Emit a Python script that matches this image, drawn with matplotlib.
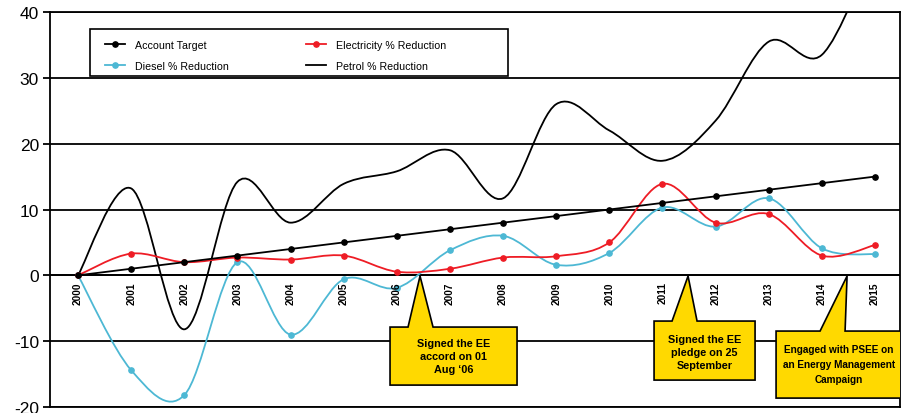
import matplotlib
matplotlib.use("Agg")
import matplotlib.pyplot as plt
from matplotlib.path import Path
from matplotlib.patches import PathPatch, Polygon, Rectangle
from matplotlib.lines import Line2D
import numpy as np

plt.rcParams['font.family'] = ['Liberation Sans', 'DejaVu Sans']

years = list(range(2000, 2016))
account_target = [0, 1, 2, 3, 4, 5, 6, 7, 8, 9, 10, 11, 12, 13, 14, 15]
electricity = [0, 3.3, 2.0, 2.7, 2.4, 3.0, 0.55, 1.0, 2.7, 2.9, 5.0, 13.9, 8.0, 9.3, 3.0, 4.6]
diesel = [0, -14.4, -18.2, 2.0, -9.0, -0.6, -1.9, 3.8, 6.0, 1.6, 3.4, 10.3, 7.4, 11.7, 4.1, 3.2]
petrol = [0, 13.2, -8.2, 14.2, 8.0, 13.9, 15.8, 19.0, 11.7, 26.0, 22.0, 17.4, 23.5, 35.5, 33.5, 50.0]

series_labels = ["Account Target", "Diesel % Reduction", "Electricity % Reduction", "Petrol % Reduction"]
callout_texts = ["Signed the EE\naccord on 01\nAug \u201806",
                 "Signed the EE\npledge on 25\nSeptember",
                 "Engaged with PSEE on\nan Energy Management\nCampaign"]

RED = "#ee1c25"
CYAN = "#4db8d4"
YELLOW = "#ffd900"


def smooth_path(x, y):
    x = np.asarray(x, float)
    y = np.asarray(y, float)
    pts = np.column_stack([x, y])
    n = len(pts)
    verts = [pts[0]]
    codes = [Path.MOVETO]
    for i in range(n - 1):
        p0 = pts[i - 1] if i > 0 else pts[i]
        p1 = pts[i]
        p2 = pts[i + 1]
        p3 = pts[i + 2] if i + 2 < n else pts[i + 1]
        c1 = p1 + (p2 - p0) / 6.0
        c2 = p2 - (p3 - p1) / 6.0
        verts += [c1, c2, p2]
        codes += [Path.CURVE4] * 3
    return Path(verts, codes)


W, H = 910, 414
fig = plt.figure(figsize=(W / 100, H / 100), dpi=100)
AX_L, AX_R, AX_T, AX_B = 50, 900, 13, 408
ax = fig.add_axes([AX_L / W, 1 - AX_B / H, (AX_R - AX_L) / W, (AX_B - AX_T) / H])

ax.set_xlim(1999.473, 2015.47)
ax.set_ylim(-20, 40)

# curves
ax.add_patch(PathPatch(smooth_path(years, petrol), fill=False, edgecolor="black", lw=1.3, zorder=3))
ax.add_patch(PathPatch(smooth_path(years, diesel), fill=False, edgecolor=CYAN, lw=1.3, zorder=4))
ax.plot(years, diesel, 'o', color=CYAN, ms=3.8, zorder=4)
ax.add_patch(PathPatch(smooth_path(years, electricity), fill=False, edgecolor=RED, lw=1.3, zorder=5))
ax.plot(years, electricity, 'o', color=RED, ms=3.8, zorder=5)
ax.plot(years, account_target, '-o', color="black", lw=1.3, ms=3.8, zorder=6)

# grid / axes
ax.set_yticks(range(-20, 41, 10))
ax.set_yticklabels([str(v) for v in range(-20, 41, 10)])
ax.set_xticks([])
ax.grid(axis='y', color='black', lw=1.3, zorder=1)
ax.axhline(0, color='black', lw=1.3, zorder=1)
ax.set_axisbelow(True)
for s in ax.spines.values():
    s.set_color('black')
    s.set_linewidth(1.3)
ax.tick_params(axis='y', length=5, width=1.3, labelsize=12.5, pad=3)

# year labels along zero line
for yr in years:
    ax.text(yr, -0.9, str(yr), rotation=90, ha='center', va='top', fontsize=7.3,
            fontweight='bold', zorder=7)


def fx(px):
    return (px - AX_L) / (AX_R - AX_L)


def fy(py):
    return 1 - (py - AX_T) / (AX_B - AX_T)


# legend frame
ax.add_patch(Rectangle((fx(90), fy(77)), fx(508) - fx(90), fy(30) - fy(77),
                       transform=ax.transAxes, facecolor='white', edgecolor='black',
                       lw=1.2, zorder=8))

handles = [
    Line2D([], [], color='black', marker='o', ms=3.8, lw=1.3),
    Line2D([], [], color=CYAN, marker='o', ms=3.8, lw=1.3),
    Line2D([], [], color=RED, marker='o', ms=3.8, lw=1.3),
    Line2D([], [], color='black', lw=1.3),
]
leg = ax.legend(handles, series_labels, ncol=2, loc='upper left',
                bbox_to_anchor=(fx(105), fy(41)),
                fontsize=7.7, frameon=False,
                handlelength=1.85, handletextpad=0.95, borderpad=0.0, labelspacing=1.05,
                borderaxespad=0.0, columnspacing=7.2)
leg.set_zorder(9)


# callouts (pixel-derived annotation shapes converted to data coords)
def px2d(px, py):
    return (2000 + (px - 78) / 53.13, (276.3 - py) / 6.58)


callouts = [
    ([(390, 328), (408, 328), (420, 277), (433, 328), (517, 328), (517, 386), (390, 386)], (453.5, 357), 7.8, 1.4),
    ([(654, 322), (672, 322), (688, 277), (697, 322), (755, 322), (755, 381), (654, 381)], (704.5, 353), 7.8, 1.4),
    ([(776, 332), (820, 332), (847, 277), (845, 332), (912, 332), (912, 399), (776, 399)], (838.5, 365), 7.2, 1.6),
]
for (poly, tc, fs, ls), txt in zip(callouts, callout_texts):
    pts = [px2d(*p) for p in poly]
    ax.add_patch(Polygon(pts, closed=True, facecolor=YELLOW, edgecolor='black', lw=1.2, zorder=10))
    tx, ty = px2d(*tc)
    ax.text(tx, ty, txt, ha='center', va='center', fontsize=fs, fontweight='bold',
            linespacing=ls, zorder=11, clip_on=True)

fig.savefig("out.png", dpi=100)
